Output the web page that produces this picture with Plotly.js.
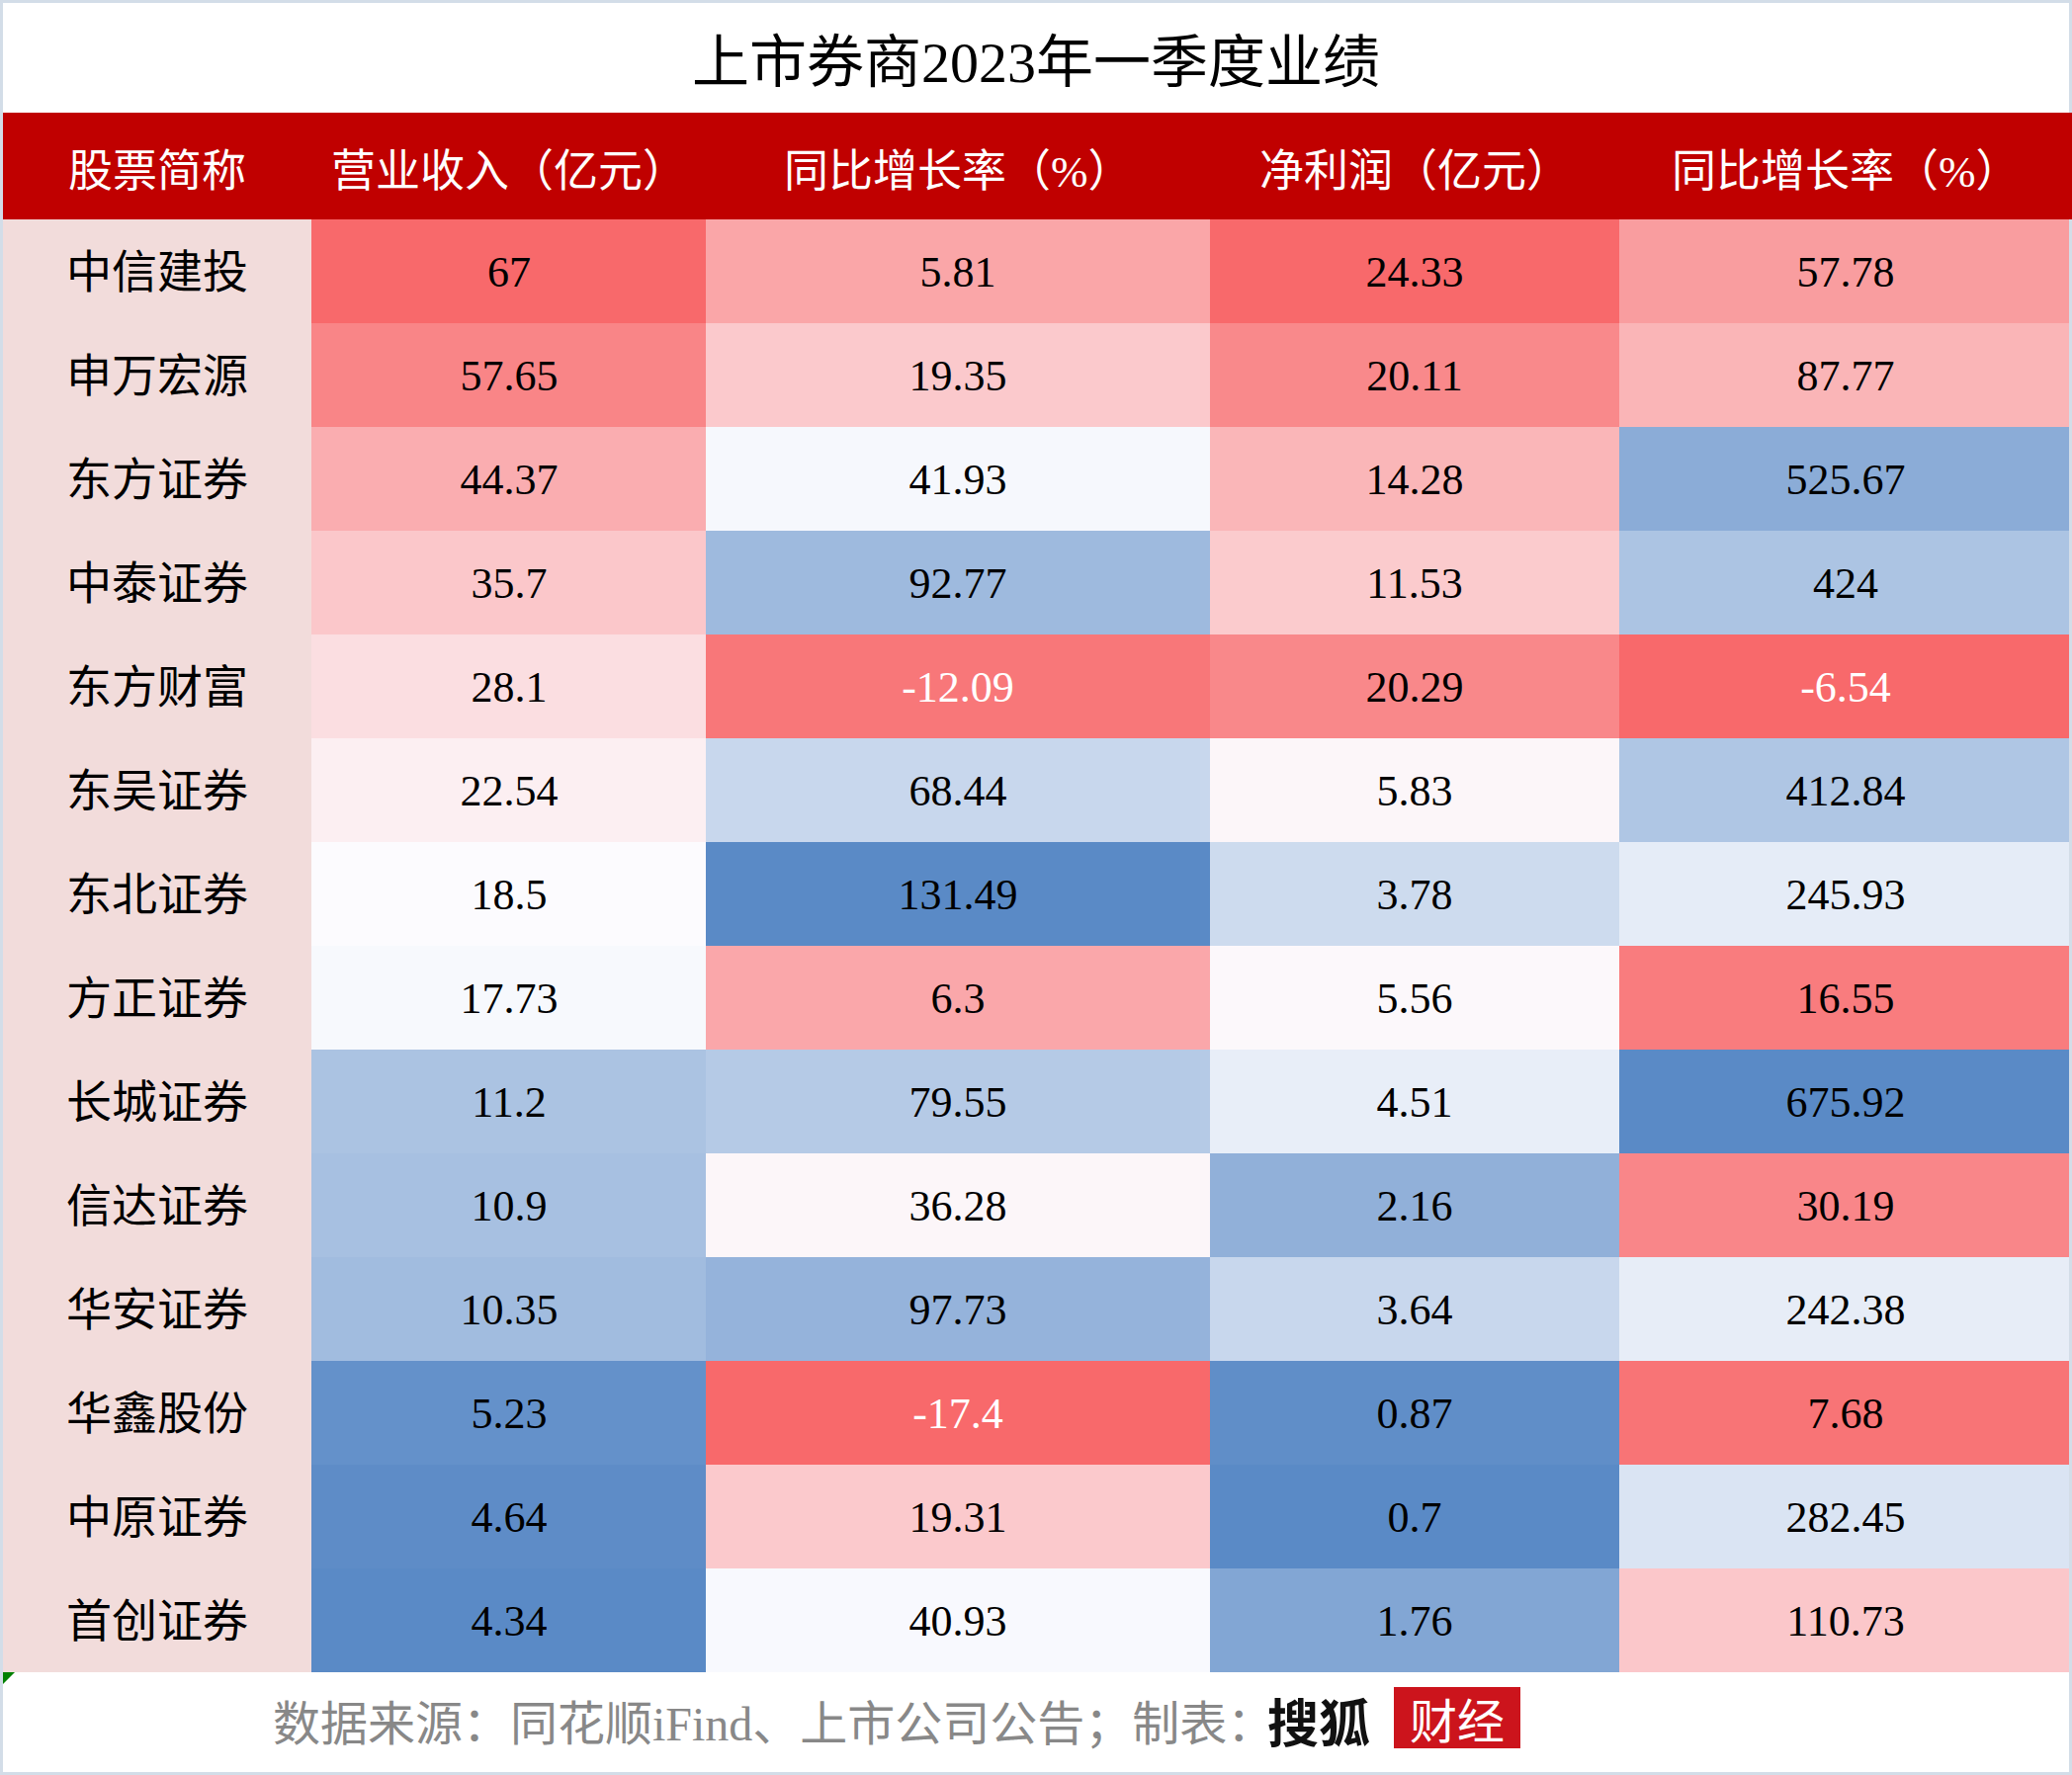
<!DOCTYPE html>
<html>
<head>
<meta charset="utf-8">
<script src="https://cdn.plot.ly/plotly-3.0.1.min.js"></script>
<style>
  body { margin: 0; background: #fff; }
  #chart { width: 2096px; height: 1796px; }
</style>
</head>
<body>
<div id="chart"></div>
<script>
var brokers = ['中信建投', '申万宏源', '东方证券', '中泰证券', '东方财富', '东吴证券', '东北证券',
    '方正证券', '长城证券', '信达证券', '华安证券', '华鑫股份', '中原证券', '首创证券'];
var revenue = [67, 57.65, 44.37, 35.7, 28.1, 22.54, 18.5, 17.73, 11.2, 10.9, 10.35, 5.23, 4.64, 4.34];
var revenueGrowth = [5.81, 19.35, 41.93, 92.77, -12.09, 68.44, 131.49, 6.3, 79.55, 36.28, 97.73, -17.4, 19.31, 40.93];
var netProfit = [24.33, 20.11, 14.28, 11.53, 20.29, 5.83, 3.78, 5.56, 4.51, 2.16, 3.64, 0.87, 0.7, 1.76];
var profitGrowth = [57.78, 87.77, 525.67, 424, -6.54, 412.84, 245.93, 16.55, 675.92, 30.19, 242.38, 7.68, 282.45, 110.73];
var headers = ['股票简称', '营业收入（亿元）', '同比增长率（%）', '净利润（亿元）', '同比增长率（%）'];

var W = 2096, H = 1796;
function px(x) { return x / W; }
function py(y) { return 1 - y / H; }

var colEdges = [3, 315, 714, 1224, 1638, 2096];
var tableTop = 222, tableBottom = 1692, headerTop = 114;

var RED = '#F8696B', WHITE = '#FCFCFF', BLUE = '#5A8AC6';
var FONT = 'Liberation Serif, Noto Sans CJK SC, serif';

// excel style 3-colour scale, midpoint at the 50th percentile
function colorScale(vals, lowIsRed) {
    var s = vals.slice().sort(function (a, b) { return a - b; });
    var n = s.length;
    var med = n % 2 ? s[(n - 1) / 2] : (s[n / 2 - 1] + s[n / 2]) / 2;
    var t = (med - s[0]) / (s[n - 1] - s[0]);
    if (lowIsRed) return [[0, RED], [t, WHITE], [1, BLUE]];
    return [[0, BLUE], [t, WHITE], [1, RED]];
}

function label(v) {
    var txt = String(v);
    return v < 0 ? '<span style="color:white">' + txt + '</span>' : txt;
}

function valueColumn(vals, axis, lowIsRed) {
    return {
        type: 'heatmap',
        x: [0],
        y: brokers,
        z: vals.map(function (v) { return [v]; }),
        text: vals.map(function (v) { return [label(v)]; }),
        texttemplate: '%{text}',
        textfont: { family: FONT, size: 44, color: '#000' },
        colorscale: colorScale(vals, lowIsRed),
        zmin: Math.min.apply(null, vals),
        zmax: Math.max.apply(null, vals),
        showscale: false,
        hoverinfo: 'skip',
        xaxis: axis,
        yaxis: 'y'
    };
}

var nameColumn = {
    type: 'heatmap',
    x: [0],
    y: brokers,
    z: brokers.map(function () { return [0]; }),
    text: brokers.map(function (b) { return [b]; }),
    texttemplate: '%{text}',
    textfont: { family: FONT, size: 46, color: '#000' },
    colorscale: [[0, '#F2DCDB'], [1, '#F2DCDB']],
    showscale: false,
    hoverinfo: 'skip',
    xaxis: 'x',
    yaxis: 'y'
};

var data = [
    nameColumn,
    valueColumn(revenue, 'x2', false),
    valueColumn(revenueGrowth, 'x3', true),
    valueColumn(netProfit, 'x4', false),
    valueColumn(profitGrowth, 'x5', true)
];

function hiddenX(i) {
    return {
        domain: [px(colEdges[i]), px(colEdges[i + 1])],
        range: [-0.5, 0.5],
        visible: false,
        fixedrange: true,
        anchor: 'y'
    };
}

var annotations = headers.map(function (h, i) {
    return {
        text: h,
        xref: 'paper', yref: 'paper',
        x: px((colEdges[i] + colEdges[i + 1]) / 2),
        y: py((headerTop + tableTop) / 2 + 6),
        xanchor: 'center', yanchor: 'middle',
        showarrow: false,
        font: { family: FONT, size: 45, color: '#fff' }
    };
});

annotations.push({
    text: '数据来源：同花顺iFind、上市公司公告；制表：',
    xref: 'paper', yref: 'paper',
    x: px(274), y: py(1744),
    xanchor: 'left', yanchor: 'middle',
    showarrow: false,
    font: { family: FONT, size: 48, color: '#888888' }
});
annotations.push({
    text: '<b>搜狐</b>',
    xref: 'paper', yref: 'paper',
    x: px(1280), y: py(1740),
    xanchor: 'left', yanchor: 'middle',
    showarrow: false,
    font: { family: 'Noto Sans CJK SC', size: 52, color: '#111' }
});
annotations.push({
    text: '财经',
    xref: 'paper', yref: 'paper',
    x: px(1474), y: py(1738),
    xanchor: 'center', yanchor: 'middle',
    showarrow: false,
    font: { family: 'Noto Sans CJK SC', size: 48, color: '#fff' }
});

var shapes = [
    // light outer frame
    { type: 'rect', xref: 'paper', yref: 'paper', x0: 0, x1: 1, y0: 0, y1: 1,
      line: { color: '#D3DDE8', width: 6 }, fillcolor: 'rgba(0,0,0,0)', layer: 'above' },
    // red header band
    { type: 'rect', xref: 'paper', yref: 'paper', x0: px(3), x1: 1, y0: py(tableTop), y1: py(headerTop),
      line: { width: 0 }, fillcolor: '#C00000', layer: 'above' },
    // logo box
    { type: 'rect', xref: 'paper', yref: 'paper', x0: px(1410), x1: px(1538), y0: py(1769), y1: py(1707),
      line: { width: 0 }, fillcolor: '#CC141C', layer: 'above' },
    // little green corner mark
    { type: 'path', xref: 'paper', yref: 'paper',
      path: 'M ' + px(3) + ',' + py(1692) + ' L ' + px(15) + ',' + py(1692) + ' L ' + px(3) + ',' + py(1704) + ' Z',
      line: { width: 0 }, fillcolor: '#008000', layer: 'above' }
];

var layout = {
    width: W,
    height: H,
    margin: { l: 0, r: 0, t: 0, b: 0 },
    paper_bgcolor: '#fff',
    plot_bgcolor: '#fff',
    showlegend: false,
    title: {
        text: '上市券商2023年一季度业绩',
        x: 0.5, xanchor: 'center',
        y: py(63), yanchor: 'middle',
        xref: 'paper', yref: 'paper',
        font: { family: FONT, size: 58, color: '#000' }
    },
    xaxis: hiddenX(0),
    xaxis2: hiddenX(1),
    xaxis3: hiddenX(2),
    xaxis4: hiddenX(3),
    xaxis5: hiddenX(4),
    yaxis: {
        domain: [py(tableBottom), py(tableTop)],
        type: 'category',
        range: [brokers.length - 0.5, -0.5],
        visible: false,
        fixedrange: true
    },
    annotations: annotations,
    shapes: shapes
};

Plotly.newPlot('chart', data, layout, { displayModeBar: false, staticPlot: true });
</script>
</body>
</html>
